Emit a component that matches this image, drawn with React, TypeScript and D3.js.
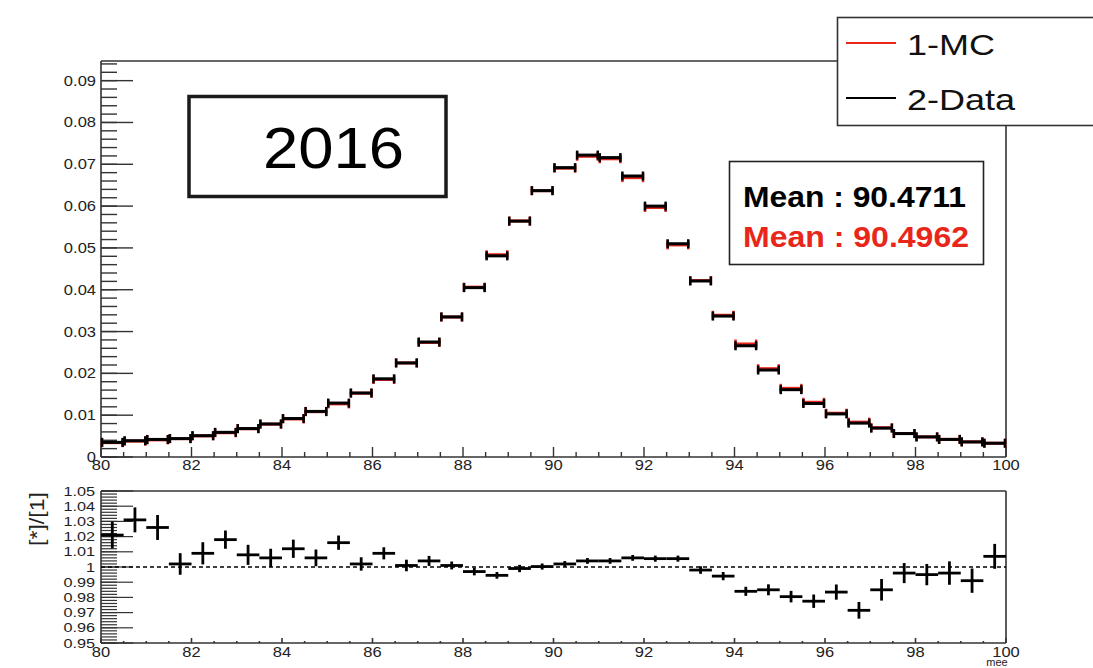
import React from 'react';
import * as d3 from 'd3';

// ---- data ----
const binLows = d3.range(80, 100, 0.5);
const binWidth = 0.5;
const dataValues = [
  0.0035, 0.0039, 0.0042, 0.0044, 0.0051, 0.0059, 0.0068, 0.0079, 0.0092, 0.0109,
  0.0129, 0.0153, 0.0187, 0.0225, 0.0275, 0.0335, 0.0405, 0.0481, 0.0564, 0.0637,
  0.0692, 0.0722, 0.0716, 0.0672, 0.0600, 0.0510, 0.0421, 0.0337, 0.0266, 0.0208,
  0.0161, 0.0128, 0.0103, 0.0081, 0.0069, 0.0056, 0.0048, 0.0042, 0.0036, 0.0033,
];
const mcValues = [
  0.00343, 0.00378, 0.00409, 0.00439, 0.00505, 0.0058, 0.00675, 0.00785, 0.00909, 0.01083,
  0.0127, 0.01527, 0.01853, 0.02248, 0.02739, 0.03347, 0.04062, 0.04837, 0.05646, 0.06368,
  0.06906, 0.07191, 0.07131, 0.0668, 0.05967, 0.05072, 0.04218, 0.0339, 0.02703, 0.02112,
  0.01642, 0.01309, 0.01047, 0.00834, 0.00701, 0.00562, 0.00482, 0.00422, 0.00363, 0.00328,
];
const ratioValues = [
  1.021, 1.031, 1.026, 1.002, 1.009, 1.018, 1.008, 1.006, 1.012, 1.006,
  1.016, 1.002, 1.009, 1.001, 1.004, 1.001, 0.997, 0.9945, 0.999, 1.0003,
  1.002, 1.004, 1.004, 1.006, 1.0055, 1.0055, 0.998, 0.994, 0.984, 0.985,
  0.9805, 0.9775, 0.9835, 0.9715, 0.985, 0.996, 0.995, 0.996, 0.991, 1.007,
];
const ratioErrors = [
  0.0088, 0.0082, 0.0082, 0.0071, 0.0073, 0.006, 0.0066, 0.006, 0.006, 0.0055,
  0.0047, 0.0044, 0.004, 0.0038, 0.0033, 0.0026, 0.0025, 0.0022, 0.0024, 0.002,
  0.0019, 0.0019, 0.0019, 0.0019, 0.002, 0.002, 0.0025, 0.0027, 0.003, 0.0036,
  0.0038, 0.0044, 0.005, 0.0055, 0.0071, 0.0066, 0.007, 0.0077, 0.008, 0.0082,
];
const mainYTicks = [0, 0.01, 0.02, 0.03, 0.04, 0.05, 0.06, 0.07, 0.08, 0.09];
const mainYLabels = ['0', '0.01', '0.02', '0.03', '0.04', '0.05', '0.06', '0.07', '0.08', '0.09'];
const xTicks = [80, 82, 84, 86, 88, 90, 92, 94, 96, 98, 100];
const ratioYTicks = [0.95, 0.96, 0.97, 0.98, 0.99, 1.0, 1.01, 1.02, 1.03, 1.04, 1.05];
const ratioYLabels = ['0.95', '0.96', '0.97', '0.98', '0.99', '1', '1.01', '1.02', '1.03', '1.04', '1.05'];
const legendLabels = ['1-MC', '2-Data'];
const meanLabels = ['Mean : 90.4711', 'Mean : 90.4962'];
const yearLabel = '2016';
const xTitle = 'mee';
const ratioTitle = '[*]/[1]';

const RED = '#e8261a';
const AX = '#333';
const FONT = '"Liberation Sans", Arial, Helvetica, sans-serif';

const T = ({ x, y, anchor = 'start', size = 14, sx = 1.18, fill = '#222', weight = 'normal', children, rotate = 0 }: any) => (
  <text
    transform={`translate(${x},${y}) rotate(${rotate}) scale(${sx},1)`}
    textAnchor={anchor}
    fontSize={size}
    fill={fill}
    fontWeight={weight}
    fontFamily={FONT}
  >
    {children}
  </text>
);

export default function App() {
  const W = 1093, H = 668;
  const L = 101, R = 1006;
  const x = d3.scaleLinear().domain([80, 100]).range([L, R]);
  const yMain = d3.scaleLinear().domain([0, 0.0947]).range([457, 61]);
  const yRatio = d3.scaleLinear().domain([0.95, 1.05]).range([643, 491]);

  const mainMinorY = d3.range(0, 0.0947, 0.002);
  const ratioMinorY = d3.range(0.95, 1.0501, 0.002);
  const xMinor = d3.range(80, 100.01, 0.5);

  const histo = (vals: number[], color: string) =>
    vals.map((v, i) => {
      const x0 = x(binLows[i]), x1 = x(binLows[i] + binWidth), yy = yMain(v);
      return (
        <g key={color + i} stroke={color} strokeWidth={3} fill="none">
          <line x1={x0} x2={x1} y1={yy} y2={yy} />
          <line x1={x0 + 1} x2={x0 + 1} y1={yy - 4.5} y2={yy + 4.5} strokeWidth={2.5} />
          <line x1={x1 - 1} x2={x1 - 1} y1={yy - 4.5} y2={yy + 4.5} strokeWidth={2.5} />
        </g>
      );
    });

  return (
    <svg width={W} height={H} style={{ position: 'absolute', left: 0, top: 0, background: '#fff' }}>
      <rect x={0} y={0} width={W} height={H} fill="#fff" />

      {/* ---------- main pad ---------- */}
      <g stroke={AX} strokeWidth={1.6} fill="none">
        <line x1={L} x2={R} y1={61} y2={61} />
        <line x1={R} x2={R} y1={61} y2={457} />
        <line x1={L} x2={R} y1={457} y2={457} />
        <line x1={L} x2={L} y1={61} y2={457} />
      </g>
      {/* y ticks */}
      <g stroke={AX} strokeWidth={1.4}>
        {mainMinorY.map((v, i) => (
          <line key={'mm' + i} x1={L} x2={L + 16} y1={yMain(v)} y2={yMain(v)} />
        ))}
        {mainYTicks.map((v, i) => (
          <line key={'mM' + i} x1={L} x2={L + 32} y1={yMain(v)} y2={yMain(v)} />
        ))}
        {xMinor.map((v, i) => (
          <line key={'xm' + i} x1={x(v)} x2={x(v)} y1={457} y2={v % 2 === 0 ? 447 : 452} />
        ))}
      </g>
      {mainYTicks.map((v, i) => (
        <T key={'yl' + i} x={96} y={yMain(v) + 5} anchor="end" size={14}>
          {mainYLabels[i]}
        </T>
      ))}
      {xTicks.map((v, i) => (
        <T key={'xl' + i} x={x(v)} y={470} anchor="middle" size={14}>
          {String(v)}
        </T>
      ))}

      {/* histograms */}
      {histo(mcValues, RED)}
      {histo(dataValues, '#000')}

      {/* 2016 box */}
      <rect x={189} y={96.5} width={257} height={100} fill="none" stroke="#1a1a1a" strokeWidth={3.5} />
      <text x={263} y={168} fontSize={58} fontFamily={FONT} fill="#000" textLength={141} lengthAdjust="spacingAndGlyphs">
        {yearLabel}
      </text>

      {/* mean box */}
      <rect x={729.5} y={161.5} width={254} height={103} fill="#fff" stroke="#222" strokeWidth={1.6} />
      <text x={743} y={207} fontSize={29} fontWeight="bold" fontFamily={FONT} fill="#000" textLength={223} lengthAdjust="spacingAndGlyphs">
        {meanLabels[0]}
      </text>
      <text x={743} y={247} fontSize={29} fontWeight="bold" fontFamily={FONT} fill={RED} textLength={226} lengthAdjust="spacingAndGlyphs">
        {meanLabels[1]}
      </text>

      {/* legend */}
      <rect x={837.5} y={17.5} width={270} height={108} fill="#fff" stroke={AX} strokeWidth={1.6} />
      <line x1={846} x2={896} y1={43} y2={43} stroke={RED} strokeWidth={2} />
      <line x1={846} x2={896} y1={98} y2={98} stroke="#000" strokeWidth={2} />
      <text x={907} y={55} fontSize={30} fontFamily={FONT} fill="#111" textLength={88} lengthAdjust="spacingAndGlyphs">
        {legendLabels[0]}
      </text>
      <text x={907} y={110} fontSize={30} fontFamily={FONT} fill="#111" textLength={108} lengthAdjust="spacingAndGlyphs">
        {legendLabels[1]}
      </text>

      {/* ---------- ratio pad ---------- */}
      <g stroke={AX} strokeWidth={1.6} fill="none">
        <line x1={L} x2={R} y1={491} y2={491} />
        <line x1={R} x2={R} y1={491} y2={643} />
        <line x1={L} x2={R} y1={643} y2={643} />
        <line x1={L} x2={L} y1={491} y2={643} />
      </g>
      <g stroke={AX} strokeWidth={1.2}>
        {ratioMinorY.map((v, i) => (
          <line key={'rm' + i} x1={L} x2={L + 16} y1={yRatio(v)} y2={yRatio(v)} />
        ))}
        {ratioYTicks.map((v, i) => (
          <line key={'rM' + i} x1={L} x2={L + 32} y1={yRatio(v)} y2={yRatio(v)} />
        ))}
        {xMinor.map((v, i) => (
          <line key={'rx' + i} x1={x(v)} x2={x(v)} y1={643} y2={v % 2 === 0 ? 638 : 641} strokeWidth={1.6} />
        ))}
      </g>
      {ratioYTicks.map((v, i) => (
        <T key={'ryl' + i} x={95} y={yRatio(v) + 4.5} anchor="end" size={13} sx={1.25}>
          {ratioYLabels[i]}
        </T>
      ))}
      {xTicks.map((v, i) => (
        <T key={'rxl' + i} x={x(v)} y={657} anchor="middle" size={14}>
          {String(v)}
        </T>
      ))}
      <T x={997} y={666} anchor="middle" size={10} sx={1.1}>
        {xTitle}
      </T>
      <T x={44} y={519} anchor="middle" size={21} sx={1.1} rotate={-90}>
        {ratioTitle}
      </T>

      {/* dashed line at 1 */}
      <line x1={L} x2={R} y1={yRatio(1)} y2={yRatio(1)} stroke="#000" strokeWidth={1.3} strokeDasharray="4,3" />

      {/* ratio points */}
      {ratioValues.map((v, i) => {
        const x0 = x(binLows[i]), x1 = x(binLows[i] + binWidth), xc = (x0 + x1) / 2;
        return (
          <g key={'rp' + i} stroke="#000" strokeWidth={2.8}>
            <line x1={x0} x2={x1} y1={yRatio(v)} y2={yRatio(v)} />
            <line x1={xc} x2={xc} y1={yRatio(v + ratioErrors[i])} y2={yRatio(v - ratioErrors[i])} />
          </g>
        );
      })}
    </svg>
  );
}
